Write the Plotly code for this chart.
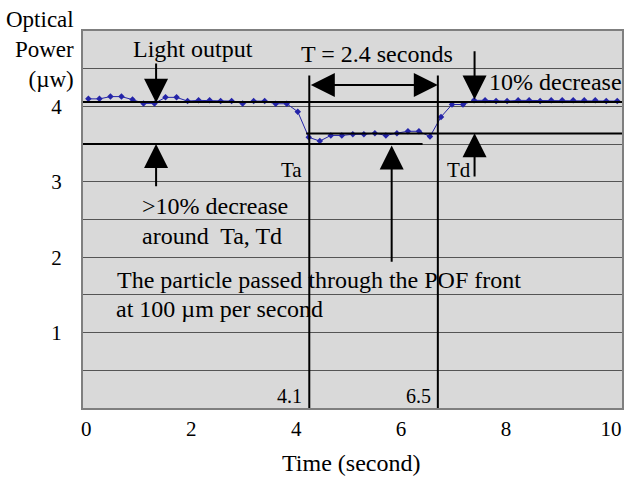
import plotly.graph_objects as go

# ---- data ----
time_s = [0.04, 0.25, 0.46, 0.67, 0.88, 1.09, 1.30, 1.51, 1.72, 1.93,
          2.14, 2.35, 2.56, 2.77, 2.98, 3.19, 3.40, 3.61, 3.82, 4.03,
          4.24, 4.45, 4.66, 4.87, 5.08, 5.29, 5.50, 5.71, 5.92, 6.13,
          6.34, 6.55, 6.76, 6.97, 7.18, 7.39, 7.60, 7.81, 8.02, 8.23,
          8.44, 8.65, 8.86, 9.07, 9.28, 9.49, 9.70, 9.91, 10.12]
power_uw = [4.10, 4.10, 4.13, 4.13, 4.09, 4.04, 4.04, 4.12, 4.12, 4.07,
            4.08, 4.08, 4.07, 4.07, 4.04, 4.07, 4.07, 4.035, 4.035, 3.93,
            3.59, 3.54, 3.615, 3.615, 3.63, 3.63, 3.645, 3.615, 3.645, 3.67,
            3.67, 3.60, 3.86, 4.025, 4.025, 4.08, 4.08, 4.07, 4.07, 4.08,
            4.08, 4.07, 4.08, 4.08, 4.08, 4.08, 4.08, 4.07, 4.07]

x_ticks = [0, 2, 4, 6, 8, 10]
y_grid = [0, 0.5, 1, 1.5, 2, 2.5, 3, 3.5, 4, 4.5, 5]
y_labels = ["", "", "1", "", "2", "", "3", "", "4", "", ""]

ta_x = 4.25      # drawn position of Ta marker line
td_x = 6.70      # drawn position of Td marker line
marker_top = 4.41
level_base = 4.06
level_left = 3.5
level_right = 3.64

FONT = "Liberation Serif, Times New Roman, serif"
fig = go.Figure()

fig.add_trace(go.Scatter(
    x=time_s, y=power_uw, mode="lines+markers",
    line=dict(color="#2424a8", width=1),
    marker=dict(symbol="diamond", size=5, color="#2424a8"),
    showlegend=False, hoverinfo="skip"))

shapes = []
for xv in (ta_x, td_x):
    shapes.append(dict(type="line", xref="x", yref="y", x0=xv, x1=xv,
                       y0=0, y1=marker_top, line=dict(color="black", width=2)))
shapes.append(dict(type="line", xref="paper", yref="y", x0=0, x1=1,
                   y0=level_base, y1=level_base, line=dict(color="black", width=2)))
shapes.append(dict(type="line", xref="paper", yref="y", x0=0, x1=0.63,
                   y0=level_left, y1=level_left, line=dict(color="black", width=2)))
shapes.append(dict(type="line", xref="x", yref="y", x0=4.19, x1=10.3,
                   y0=level_right, y1=level_right, line=dict(color="black", width=2)))

ann = []
def arrow(x, y, ax, ay, side="end"):
    ann.append(dict(x=x, y=y, ax=ax, ay=ay, xref="x", yref="y", axref="x", ayref="y",
                    text="", showarrow=True, arrowhead=2, arrowsize=2.4, arrowwidth=2,
                    arrowcolor="black", arrowside=side, startarrowhead=2, startarrowsize=2.4))

def txt(x, y, s, size=24, xanchor="center", xref="x", yref="y", align="center"):
    ann.append(dict(x=x, y=y, xref=xref, yref=yref, text=s, showarrow=False,
                    xanchor=xanchor, yanchor="middle", align=align,
                    font=dict(family=FONT, size=size, color="black")))

arrow(1.33, 4.05, 1.33, 4.59)
arrow(1.33, 3.50, 1.33, 2.92)
arrow(5.82, 3.48, 5.82, 1.92)
arrow(7.40, 4.09, 7.40, 4.75)
arrow(7.40, 3.645, 7.40, 3.05)
arrow(td_x, 4.285, ta_x, 4.285, side="end+start")

txt(2.03, 4.76, "Light output")
txt(5.54, 4.70, "T = 2.4 seconds")
txt(7.63, 4.32, "10% decrease", xanchor="left")
txt(4.155, 3.15, "Ta", size=21, xanchor="right")
txt(6.84, 3.15, "Td", size=21, xanchor="left")
txt(2.45, 2.68, "&gt;10% decrease")
txt(2.39, 2.28, "around  Ta, Td")
txt(0.55, 1.70, "The particle passed through the POF front", xanchor="left")
txt(0.53, 1.316, "at 100 µm per second", xanchor="left")
txt(4.155, 0.154, "4.1", size=20, xanchor="right")
txt(6.60, 0.154, "6.5", size=20, xanchor="right")
txt(-0.013, 0.95, "Optical<br>Power<br>(µw)", size=23, xanchor="right",
    xref="paper", yref="paper", align="right")
txt(5.05, -0.145, "Time (second)", size=24, yref="paper")

fig.update_layout(
    width=624, height=479,
    margin=dict(l=83, r=0, t=31, b=71),
    paper_bgcolor="white", plot_bgcolor="#d9d9d9",
    shapes=shapes, annotations=ann,
    font=dict(family=FONT, color="black"),
    xaxis=dict(range=[-0.063, 10.21], tickvals=x_ticks, showgrid=False, zeroline=False,
               showline=True, linecolor="#7f7f7f", linewidth=2, mirror=True,
               tickfont=dict(family=FONT, size=21), ticks="", ticklabelstandoff=1),
    yaxis=dict(range=[0, 5], tickvals=y_grid, ticktext=y_labels, showgrid=True,
               gridcolor="#555555", gridwidth=1, zeroline=False,
               showline=True, linecolor="#7f7f7f", linewidth=2, mirror=True,
               tickfont=dict(family=FONT, size=21), ticks="", ticklabelstandoff=15),
)

fig.write_html("out.html")
